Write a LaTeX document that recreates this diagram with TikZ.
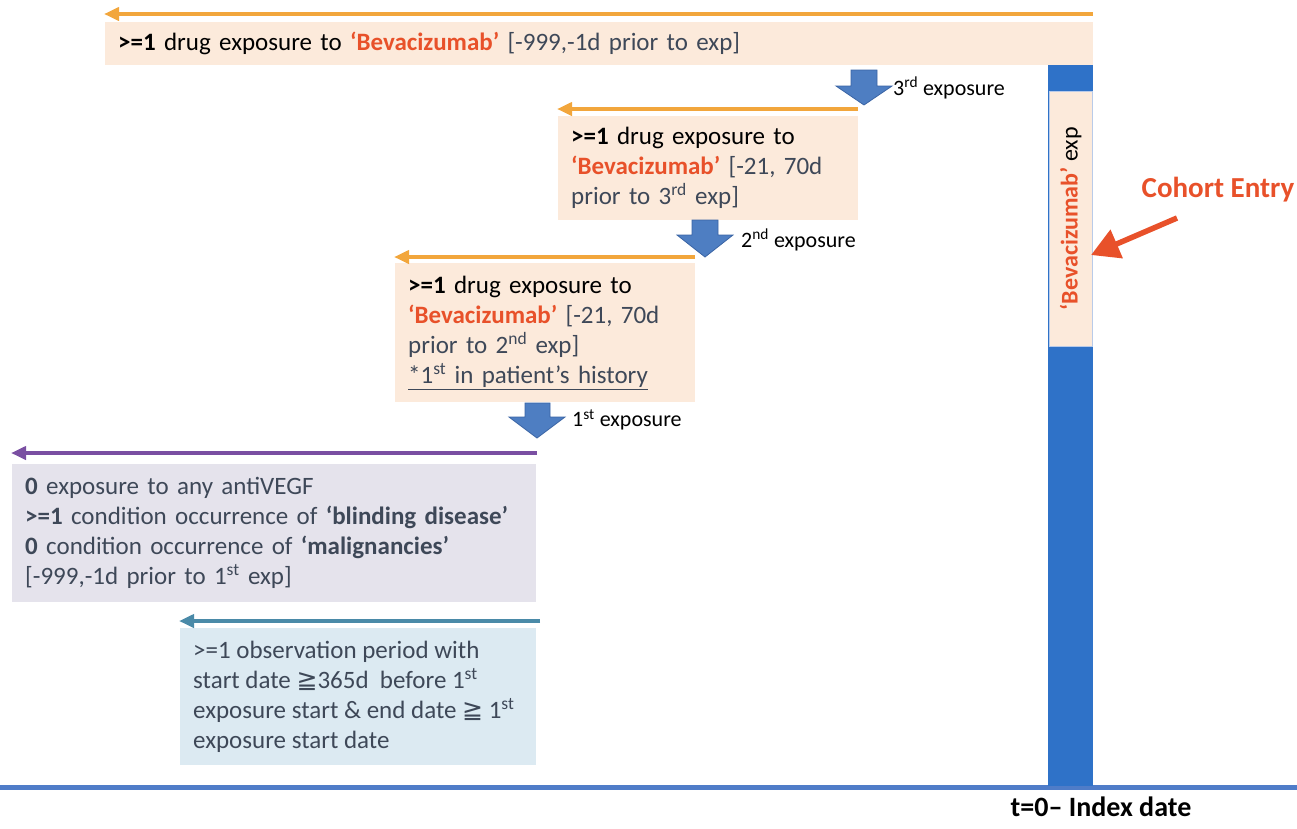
\documentclass[tikz,border=0pt]{standalone}
\usepackage{fontspec}
\setmainfont{Carlito}
\newfontfamily\dejavu{DejaVu Sans}
\usetikzlibrary{arrows.meta}
\definecolor{peach}{HTML}{FCEADB}
\definecolor{lilac}{HTML}{E5E3EC}
\definecolor{skyb}{HTML}{DCEAF2}
\definecolor{barblue}{HTML}{2F72C8}
\definecolor{lineblue}{HTML}{4F7CC8}
\definecolor{orangeA}{HTML}{F2A63C}
\definecolor{purpleA}{HTML}{7A4FA2}
\definecolor{tealA}{HTML}{4A8AA8}
\definecolor{redA}{HTML}{E8512A}
\definecolor{txt}{HTML}{3E4858}
\definecolor{blockfill}{HTML}{4E7EC2}
\definecolor{blockline}{HTML}{3A64A4}
\newcommand\bevac{\textcolor{redA}{\textbf{‘Bevacizumab’}}}
\newcommand\mygeqq{{\dejavu ≧}}
\begin{document}
\begin{tikzpicture}[x=1pt,y=-1pt,
  box/.style={anchor=north west, inner xsep=13pt, inner ysep=0pt, align=left,
    font=\fontsize{25}{30}\selectfont, text=txt},
  lbl/.style={anchor=west, inner sep=0pt, font=\fontsize{22}{26}\selectfont, text=black},
  period/.style={line width=4pt, -{Triangle[length=15pt,width=13pt]}},
  block/.style={fill=blockfill, draw=blockline, line width=0.8pt}
]
\useasboundingbox (0,0) rectangle (1297,828);

% timeline
\coordinate (tl0) at (0,787);
\coordinate (tl1) at (1297,787);
\draw[lineblue, line width=5pt] (tl0) -- (tl1);
\node[anchor=north, inner sep=0pt, font=\fontsize{28}{32}\selectfont\bfseries] (idx) at (1101,797) {t=0– Index date};

% index bar
\node[fill=barblue, draw=none, minimum width=45pt, minimum height=722pt, anchor=north west, inner sep=0pt] (bar) at (1048,64) {};
\node[fill=peach, draw=lineblue!40, line width=0.6pt, minimum width=43pt, minimum height=255pt, anchor=north west, inner sep=0pt] (ins) at (1049,91) {};
\node[rotate=90, inner sep=0pt, font=\fontsize{24}{28}\selectfont] (instext) at (ins.center) {\bevac{} exp};

% cohort entry
\node[anchor=center, inner sep=0pt, font=\fontsize{29}{34}\selectfont\bfseries, text=redA] (coh) at (1218,190) {Cohort Entry};
\coordinate (cohtail) at (1177,218);
\coordinate (cohtip) at (1091,255);
\draw[redA, line width=5.5pt, -{Triangle[length=28pt,width=30pt]}] (cohtail) -- (cohtip);

% top box
\node[box, fill=peach, text width=962pt, minimum height=43pt] (b1) at (105,22)
  {\textcolor{black}{\textbf{>=1} drug exposure to} \bevac{} [-999,-1d prior to exp]};
\coordinate (a1s) at (1093,14);
\coordinate (a1e) at (104,14);
\draw[orangeA, period] (a1s) -- (a1e);

% block arrow 1
\filldraw[block] (851,70) -- (877,70) -- (877,86) -- (892,86) -- (864,105) -- (836,86) -- (851,86) -- cycle;
\node[lbl] (l3) at (893,88) {3\textsuperscript{rd} exposure};

% box 2
\node[box, fill=peach, text width=274pt, minimum height=104pt] (b2) at (558,116)
  {\textcolor{black}{\textbf{>=1} drug exposure to}\\ \bevac{} [-21, 70d\\ prior to 3\textsuperscript{rd} exp]};
\coordinate (a2s) at (858,109);
\coordinate (a2e) at (557,109);
\draw[orangeA, period] (a2s) -- (a2e);

% block arrow 2
\filldraw[block] (692,220) -- (718,220) -- (718,235) -- (733,235) -- (705,257) -- (677,235) -- (692,235) -- cycle;
\node[lbl] (l2) at (741,240) {2\textsuperscript{nd} exposure};

% box 3
\node[box, fill=peach, text width=274pt, minimum height=139pt] (b3) at (395,263)
  {\textcolor{black}{\textbf{>=1} drug exposure to}\\ \bevac{} [-21, 70d\\ prior to 2\textsuperscript{nd} exp]\\ \underline{*1\textsuperscript{st} in patient’s history}};
\coordinate (a3s) at (695,257);
\coordinate (a3e) at (394,257);
\draw[orangeA, period] (a3s) -- (a3e);

% block arrow 3
\filldraw[block] (525,403) -- (550,403) -- (550,417) -- (565,417) -- (537,438) -- (509,417) -- (525,417) -- cycle;
\node[lbl] (l1) at (572,420) {1\textsuperscript{st} exposure};

% purple box
\node[box, fill=lilac, text width=498pt, minimum height=138pt] (b4) at (12,464)
  {\textbf{0} exposure to any antiVEGF\\ \textbf{>=1} condition occurrence of \textbf{‘blinding disease’}\\ \textbf{0} condition occurrence of \textbf{‘malignancies’}\\ {[}-999,-1d prior to 1\textsuperscript{st} exp{]}};
\coordinate (a4s) at (537,453);
\coordinate (a4e) at (11,453);
\draw[purpleA, period] (a4s) -- (a4e);

% blue box
\node[fill=skyb, minimum width=356pt, minimum height=137pt, inner sep=0pt, anchor=north west] (b5) at (180,628) {};
\node[box, anchor=west, inner xsep=0pt] (b5t) at ([xshift=13pt]b5.west)
  {>=1 observation period with\\ start date \mygeqq365d\ \ before 1\textsuperscript{st}\\ exposure start \& end date \mygeqq\ 1\textsuperscript{st}\\ exposure start date};
\coordinate (a5s) at (540,621);
\coordinate (a5e) at (179,621);
\draw[tealA, period] (a5s) -- (a5e);
\end{tikzpicture}
\end{document}
